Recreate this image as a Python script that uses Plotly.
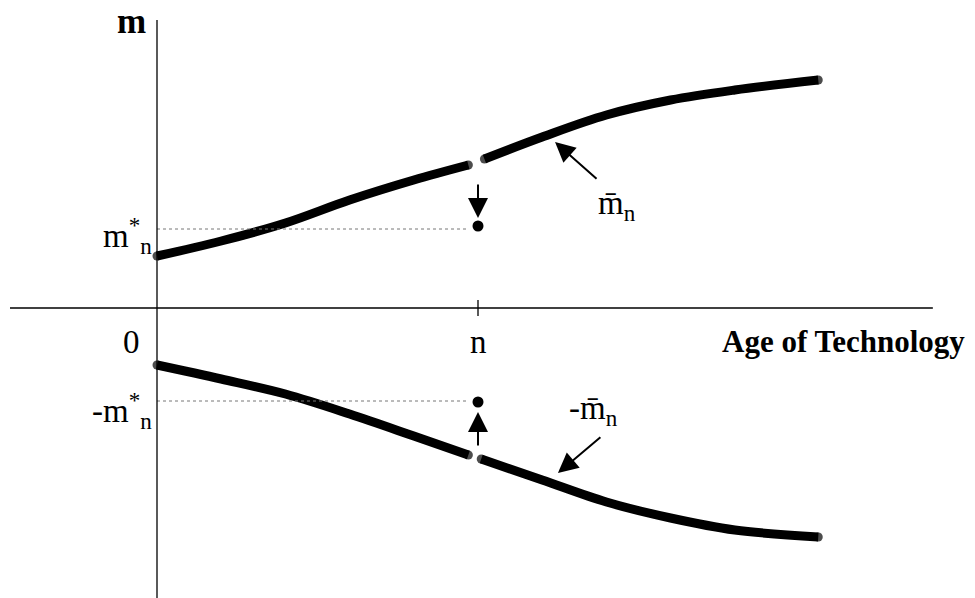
import plotly.graph_objects as go

# ---- data (age units: n = 10; m units arbitrary) ----
n_age = 10
upper_age_before = [0, 2, 4, 6, 8, 9.7]
upper_m_before = [5.2, 6.7, 8.5, 10.8, 12.8, 14.3]
upper_age_after = [10.2, 12, 14, 16, 18, 20.6]
upper_m_after = [14.9, 17.1, 19.3, 20.8, 21.8, 22.8]

lower_age_before = [0, 2, 4, 6, 8, 9.7]
lower_m_before = [-5.7, -7.1, -8.6, -10.6, -12.8, -14.7]
lower_age_after = [10.1, 12, 14, 16, 18, 20.6]
lower_m_after = [-15.1, -17.2, -19.4, -21.0, -22.2, -22.9]

m_star_dot = [8.2, -9.4]
m_star_line = [7.9, -9.3]

FONT = "Liberation Serif"

fig = go.Figure()

def curve(xs, ys):
    sizes = [9] + [0] * (len(xs) - 2) + [9]
    fig.add_trace(go.Scatter(x=xs, y=ys, mode="lines+markers",
                             line=dict(color="black", width=9, shape="spline"),
                             marker=dict(size=sizes, color="black", line=dict(width=0)),
                             hoverinfo="skip", showlegend=False))

curve(upper_age_before, upper_m_before)
curve(upper_age_after, upper_m_after)
curve(lower_age_before, lower_m_before)
curve(lower_age_after, lower_m_after)

# dotted guide lines
for yv in m_star_line:
    fig.add_trace(go.Scatter(x=[0, 9.7], y=[yv, yv], mode="lines",
                             line=dict(color="#777", width=1, dash="dot"),
                             hoverinfo="skip", showlegend=False))

# dots
fig.add_trace(go.Scatter(x=[n_age, n_age], y=m_star_dot, mode="markers",
                         marker=dict(size=11, color="black"),
                         hoverinfo="skip", showlegend=False))

# axes
fig.add_shape(type="line", xref="x", yref="y", x0=-4.58, x1=24.17, y0=0, y1=0,
              line=dict(color="black", width=1.3))
fig.add_shape(type="line", xref="x", yref="y", x0=0, x1=0, y0=-29, y1=28.8,
              line=dict(color="black", width=1.3))
fig.add_shape(type="line", xref="x", yref="y", x0=n_age, x1=n_age, y0=0.8, y1=-0.8,
              line=dict(color="black", width=1.3))

def arrow(x, y, ax, ay):
    fig.add_annotation(x=x, y=y, ax=ax, ay=ay, xref="x", yref="y", axref="x", ayref="y",
                       text="", showarrow=True, arrowhead=2, arrowsize=2,
                       arrowwidth=2, arrowcolor="black")

arrow(n_age, 9.0, n_age, 12.5)
arrow(n_age, -10.4, n_age, -13.9)
arrow(12.40, 16.6, 13.74, 12.8)
arrow(12.49, -16.5, 13.86, -12.8)

def label(x, y, text, size=33, xanchor="center", yanchor="middle"):
    fig.add_annotation(x=x, y=y, xref="x", yref="y", text=text, showarrow=False,
                       xanchor=xanchor, yanchor=yanchor,
                       font=dict(family=FONT, size=size, color="black"))

label(-0.81, 30.8, "<b>m</b>", size=35, yanchor="top")
label(-0.1, 7.3, "m<sup>*</sup><sub>n</sub>", xanchor="right")
label(-0.1, -10.2, "-m<sup>*</sup><sub>n</sub>", xanchor="right")
label(-0.81, -3.4, "0")
label(n_age, -3.4, "n")
label(25.23, -3.3, "<b>Age of Technology</b>", size=31, xanchor="right")
label(14.33, 10.3, "m\u0304<sub>n</sub>")
label(13.6, -10.2, "-m\u0304<sub>n</sub>")

fig.update_layout(
    width=975, height=598,
    margin=dict(l=0, r=0, t=0, b=0),
    plot_bgcolor="white", paper_bgcolor="white",
    xaxis=dict(range=[-4.891, 25.483], visible=False, fixedrange=True),
    yaxis=dict(range=[-29, 30.8], visible=False, fixedrange=True),
    showlegend=False,
)

fig.write_html("out.html", config={"displayModeBar": False},
               post_script="document.body.style.margin='0';document.body.style.overflow='hidden';")
